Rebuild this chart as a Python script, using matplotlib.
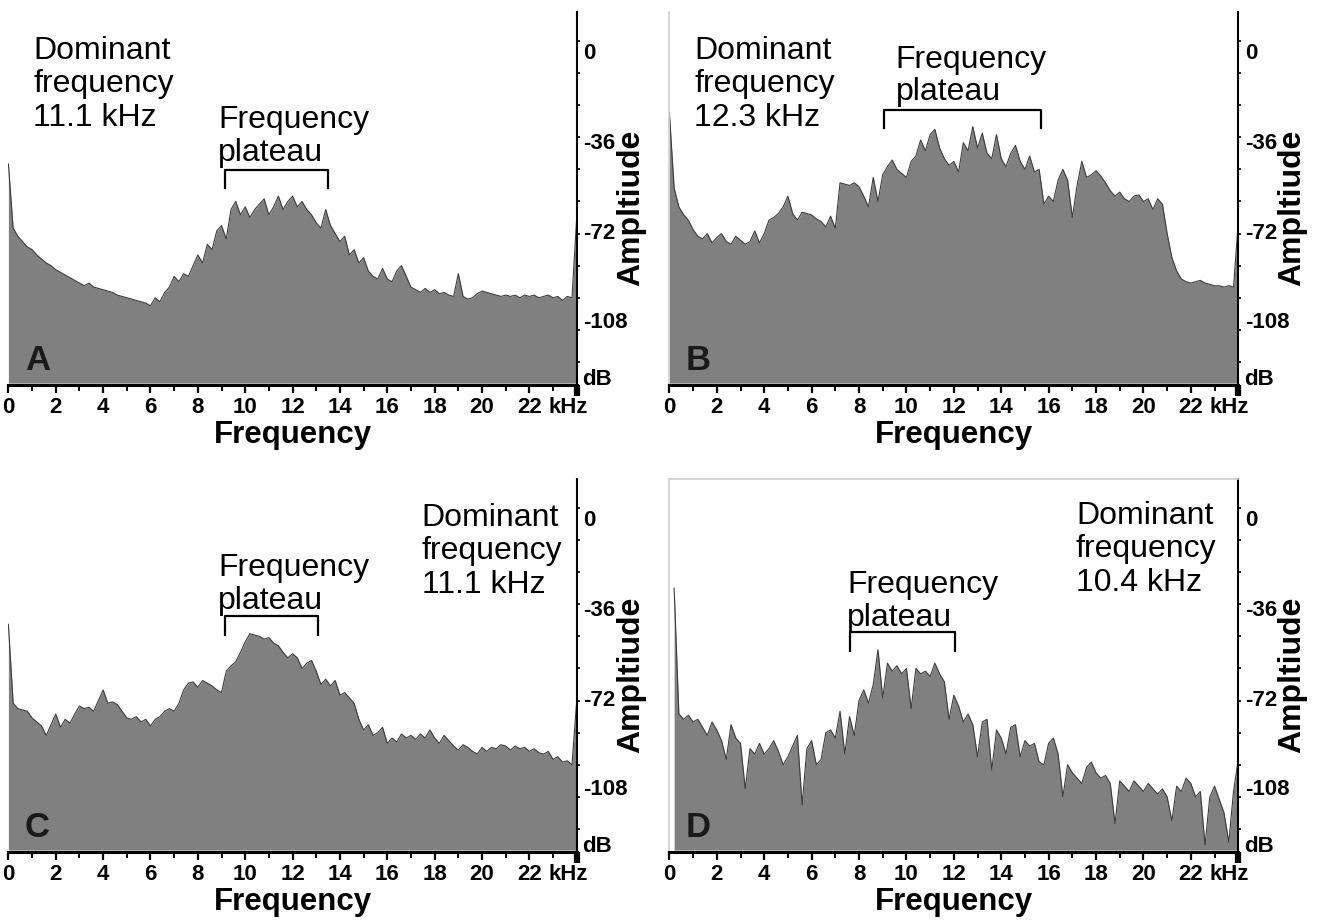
import numpy as np
import matplotlib
matplotlib.use("Agg")
import matplotlib.pyplot as plt
import matplotlib.transforms as mtransforms

plt.rcParams['font.family'] = ['Liberation Sans', 'DejaVu Sans']

# frequency bins (kHz), 0.2 kHz apart
freq = np.round(np.arange(121) * 0.2, 1)

# amplitude (dB)
amp_a = [-46, -70, -73, -75, -77, -78, -80, -81.5, -83, -84,
         -85.5, -86.5, -87.5, -88.5, -89.5, -90.5, -91.5, -90.5, -92, -92.5,
         -93, -93.5, -94, -95, -95.5, -96, -96.5, -97, -97.5, -98,
         -99, -96, -97.5, -94, -92, -88, -90, -87, -88, -84,
         -80, -83, -76, -78, -71, -69, -74, -63, -60, -65,
         -62, -66, -63, -61, -59, -65, -62, -58, -63, -60,
         -58, -62, -60, -63, -65, -68, -70, -63, -69, -72,
         -75, -73, -80, -78, -83, -81, -86, -88, -89, -85,
         -89, -90, -86, -84, -88, -92, -93, -94, -92.5, -94,
         -93, -94.5, -94, -95, -95.5, -87, -95.5, -96.5, -96, -94.5,
         -93.5, -94, -94.5, -95, -95.5, -95, -95.5, -95, -96, -95,
         -95.5, -95, -96, -95.5, -95, -96, -95.5, -97, -95.5, -96,
         -66]
amp_b = [-27, -55, -62, -65, -67, -70.5, -73, -74, -72, -75.5,
         -73.5, -72, -75, -76, -73, -74.5, -76, -75, -71, -75.5,
         -72, -67, -66, -64.5, -62, -58, -64.5, -67, -64, -64.5,
         -65, -66.5, -67.5, -69.5, -65.5, -70, -53, -53.5, -54, -53,
         -54.5, -58, -62, -51, -60, -50, -47, -44.5, -48, -49.5,
         -51, -45, -43, -37, -41, -35, -33, -40, -44, -46.5,
         -45, -49, -38, -41, -32, -40, -34.5, -42, -44, -35,
         -44, -47, -42, -39, -45, -48, -43, -49, -48, -61,
         -58, -60, -52, -48, -52, -66, -54, -45, -51, -50,
         -48.5, -50.5, -53, -56, -58, -56.5, -59, -60, -58, -57.5,
         -60, -59, -63, -59, -61, -72, -81, -86, -89, -90,
         -90.5, -90, -89.5, -90.5, -91, -91.5, -91.5, -92, -91.5, -92,
         -68]
amp_c = [-43.5, -73, -75, -75.5, -76, -78.5, -80, -81.5, -85, -81,
         -77, -82, -79, -80.5, -77, -74, -75, -74.5, -76, -72,
         -68, -73, -72.5, -73.5, -76, -78.5, -79, -78, -80, -79,
         -81.5, -79, -78, -76, -75, -76, -73, -68, -65.5, -65,
         -67, -64.5, -65.5, -66.5, -68, -69, -61, -59, -57.5, -54,
         -50, -47, -47.5, -48, -49, -48.5, -50.5, -51.5, -54, -56,
         -54.5, -56, -60, -58, -57, -61, -66, -64, -66.5, -64.5,
         -70, -69, -71, -73, -79, -83, -81, -85, -84, -82,
         -88, -86, -87.5, -84.5, -86, -85, -86.5, -84.5, -86, -83,
         -86, -88, -85, -87, -89, -90.5, -88.5, -89.5, -91, -92,
         -89.5, -91, -89.5, -90, -88.5, -89, -90.5, -89, -90, -89.5,
         -91, -90, -91.5, -92, -91, -94, -93, -95, -94.5, -96,
         -72]
amp_d = [np.nan, -30, -77, -79, -77.5, -80, -79, -82, -85, -80,
         -83, -87, -94, -81, -86, -88, -105, -90, -92, -88,
         -92, -90, -87, -91, -96, -93, -89, -85, -111, -90,
         -87, -96, -94, -84, -83, -86, -76, -92, -78, -85,
         -72, -68, -73, -66, -53, -71, -58, -61, -59, -62,
         -60, -75, -60, -62, -61, -63, -58, -62, -65, -79,
         -70, -74, -80, -77, -81, -93, -80, -79, -98, -83,
         -86, -92, -82, -81, -93, -87, -89, -88, -95, -96,
         -88, -86, -92, -108, -96, -99, -101, -103, -97, -95,
         -99, -101, -100, -103, -118, -102, -104, -106, -102, -104,
         -106, -103, -105, -107, -105, -108, -117, -104, -106, -101,
         -103, -108, -106, -126, -108, -104, -109, -114, -125, -106,
         -94]

spectra = [amp_a, amp_b, amp_c, amp_d]
panel_letters = ["A", "B", "C", "D"]
dominant_khz = ["11.1", "12.3", "11.1", "10.4"]
plateau_lo = [9.15, 9.04, 9.15, 7.63]
plateau_hi = [13.5, 15.68, 13.07, 12.07]

db_ticks = [0, -36, -72, -108]
x_ticks = list(range(0, 23, 2))

# layout (positions of annotations in kHz / dB)
rects = [(0.00635, 0.5819, 0.4299, 0.4055), (0.50635, 0.5819, 0.4303, 0.4055),
         (0.00635, 0.0754, 0.4299, 0.4055), (0.50635, 0.0754, 0.4303, 0.4055)]
dom_xy = [(1.05, 2.0), (1.05, 2.0), (17.45, 2.0), (17.15, 2.8)]
plat_xy = [(8.85, -24.0), (9.55, -1.3), (8.85, -17.0), (7.5, -23.3)]
bracket_top = [-48.3, -25.9, -40.5, -46.5]
bracket_leg = 6.8
db_label_y = [-4.6, -38.2, -71.8, -105.4]

fill_col = "#808080"
edge_col = "#3c3c3c"
ylo, yhi = -128.8, 11.0

fig = plt.figure(figsize=(13.22, 9.22), dpi=100)

for k in range(4):
    ax = fig.add_axes(rects[k])
    amp = np.array(spectra[k], dtype=float)
    ax.fill_between(freq, amp, ylo + 0.9, color=fill_col, lw=0)
    ax.plot(freq, amp, color=edge_col, lw=0.8)
    ax.set_xlim(0, 24)
    ax.set_ylim(ylo, yhi)

    for s in ["left", "top"]:
        ax.spines[s].set_visible(False)
    if k == 1 or k == 3:
        ax.spines["left"].set_visible(True)
        ax.spines["left"].set_color("#d0d0d0")
        ax.spines["left"].set_linewidth(1.2)
    if k == 3:
        ax.spines["top"].set_visible(True)
        ax.spines["top"].set_color("#d0d0d0")
        ax.spines["top"].set_linewidth(1.2)
    ax.spines["bottom"].set_linewidth(2.2)
    ax.spines["right"].set_linewidth(1.5)

    # x axis
    ax.set_xticks(x_ticks)
    ax.set_xticks(range(1, 24, 2), minor=True)
    ax.set_xticklabels([str(t) for t in x_ticks])
    ax.tick_params(axis="x", which="major", direction="out", length=5.5, width=1.6,
                   pad=3, labelsize=16)
    ax.tick_params(axis="x", which="minor", direction="out", length=4, width=1.4)
    for lab in ax.get_xticklabels():
        lab.set_fontweight("bold")
    xtr = mtransforms.blended_transform_factory(ax.transData, ax.transAxes)
    ax.text(22.8, -0.0315, "kHz", transform=xtr, ha="left", va="top",
            fontsize=16, fontweight="bold")
    ax.text(0.5, -0.092, "Frequency", transform=ax.transAxes, ha="center", va="top",
            fontsize=22.5, fontweight="bold")
    # heavy tick at the corner
    ax.plot([1, 1], [0, -0.027], transform=ax.transAxes, color="black", lw=4.5,
            solid_capstyle="butt", clip_on=False)

    # y axis on the right
    ax.yaxis.tick_right()
    ax.set_yticks(np.arange(0, -121, -12))
    ax.set_yticklabels([])
    ax.tick_params(axis="y", direction="out", length=2.5, width=1.2)
    ytr = mtransforms.blended_transform_factory(ax.transAxes, ax.transData)
    for v, yy in zip(db_ticks, db_label_y):
        ax.text(1.012, yy, str(v), transform=ytr, ha="left", va="center",
                fontsize=16, fontweight="bold")
    ax.text(1.01, -126.5, "dB", transform=ytr, ha="left", va="center",
            fontsize=16, fontweight="bold")
    ax.text(1.0955, 0.4746, "Ampltiude", transform=ax.transAxes, rotation=90,
            ha="center", va="center", fontsize=23, fontweight="bold")

    # annotations
    ax.text(dom_xy[k][0], dom_xy[k][1],
            "Dominant\nfrequency\n" + dominant_khz[k] + " kHz",
            ha="left", va="top", fontsize=23, linespacing=1.16)
    ax.text(plat_xy[k][0], plat_xy[k][1], "Frequency\nplateau",
            ha="left", va="top", fontsize=23, linespacing=1.12)
    lo, hi, top = plateau_lo[k], plateau_hi[k], bracket_top[k]
    ax.plot([lo, lo, hi, hi], [top - bracket_leg, top, top, top - bracket_leg],
            color="black", lw=1.6)
    ax.text(1.23, -122.9, panel_letters[k], ha="center", va="baseline",
            fontsize=25, fontweight="bold", color="#1a1a1a")

fig.savefig("out.png", dpi=100, facecolor="white")
